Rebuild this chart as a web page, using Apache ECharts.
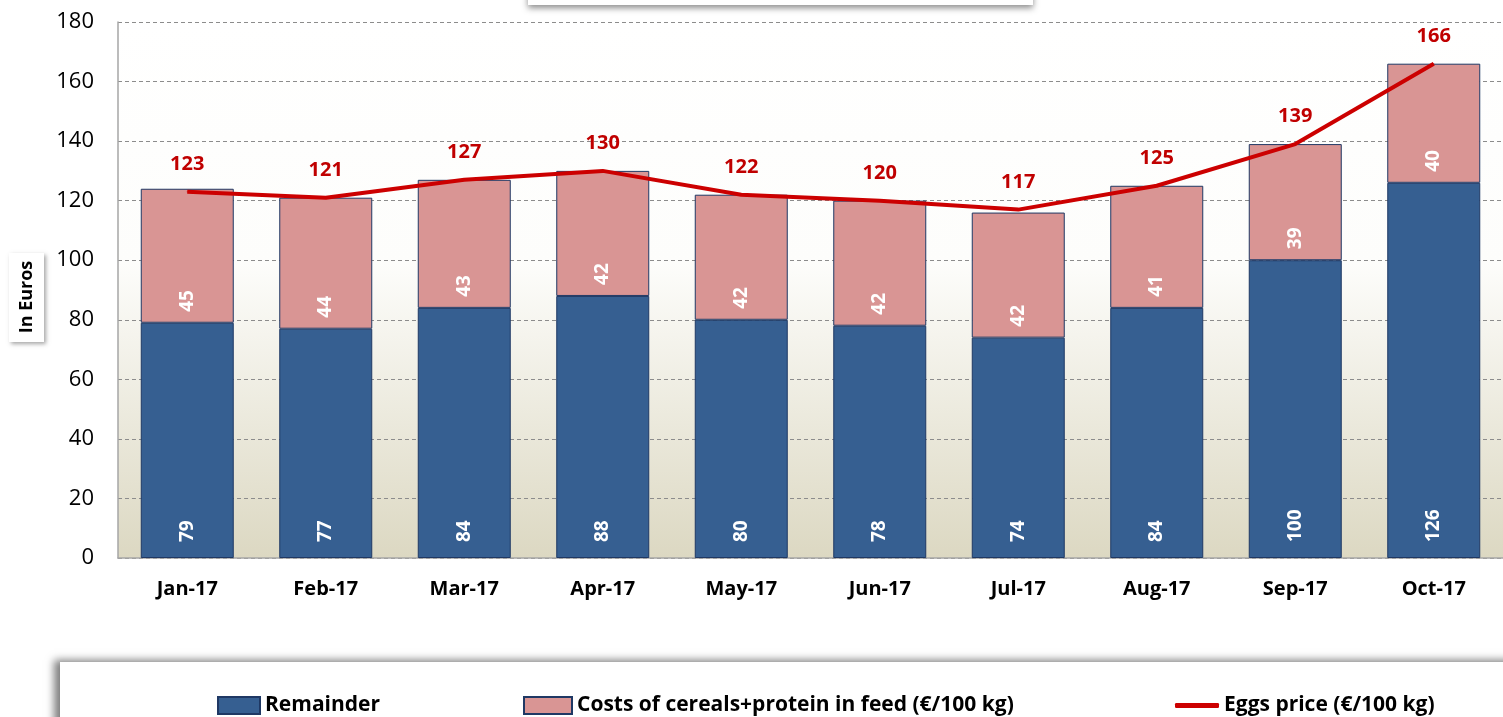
<!DOCTYPE html>
<html>
<head>
<meta charset="utf-8">
<script src="https://cdn.jsdelivr.net/npm/echarts@6/dist/echarts.min.js"></script>
<style>
  html, body { margin: 0; padding: 0; background: #fff; }
  #chart { width: 1503px; height: 717px; }
</style>
</head>
<body>
<div id="chart"></div>
<script>
// 月份类别
const months = ['Jan-17', 'Feb-17', 'Mar-17', 'Apr-17', 'May-17', 'Jun-17', 'Jul-17', 'Aug-17', 'Sep-17', 'Oct-17']
// 剩余部分
const remainder = [79, 77, 84, 88, 80, 78, 74, 84, 100, 126]
// 饲料成本
const feedCosts = [45, 44, 43, 42, 42, 42, 42, 41, 39, 40]
// 鸡蛋价格
const eggsPrice = [123, 121, 127, 130, 122, 120, 117, 125, 139, 166]

const FONT = '"Open Sans", "Liberation Sans", sans-serif'
const chart = echarts.init(document.getElementById('chart'))

const barLabel = (dist) => ({
  show: true,
  position: 'insideBottom',
  rotate: 90,
  align: 'left',
  verticalAlign: 'middle',
  distance: dist,
  color: '#fff',
  fontWeight: 'bold',
  fontSize: 19,
  fontFamily: FONT
})

const legendBase = {
  top: 690,
  itemWidth: 42,
  itemHeight: 17,
  itemGap: 4,
  textStyle: { fontSize: 21, fontWeight: 'bold', color: '#000', fontFamily: FONT }
}

const option = {
  animation: false,
  grid: {
    left: 118,
    top: 22,
    width: 1395,
    bottom: 159,
    show: true,
    borderWidth: 0,
    backgroundColor: new echarts.graphic.LinearGradient(0, 0, 0, 1, [
      { offset: 0, color: '#ffffff' },
      { offset: 0.45, color: '#fdfdfb' },
      { offset: 1, color: '#dcd8c2' }
    ])
  },
  graphic: [
    // 顶部标题框
    {
      type: 'rect', shape: { x: 528, y: -10, width: 505, height: 15 },
      style: { fill: '#fff', shadowBlur: 6, shadowColor: 'rgba(0,0,0,0.45)', shadowOffsetY: 3 }
    },
    // 底部图例框
    {
      type: 'rect', shape: { x: 60, y: 662, width: 1460, height: 70 },
      style: { fill: '#fff', shadowBlur: 8, shadowColor: 'rgba(0,0,0,0.5)', shadowOffsetX: -6, shadowOffsetY: -2 }
    },
    // 纵轴名称
    {
      type: 'rect', shape: { x: 9, y: 253, width: 35, height: 89 },
      style: { fill: '#fff', shadowBlur: 4, shadowColor: 'rgba(0,0,0,0.35)', shadowOffsetX: 2, shadowOffsetY: 2 }
    },
    {
      type: 'text', x: 27, y: 297, rotation: Math.PI / 2,
      style: { text: 'In Euros', fill: '#000', font: 'bold 18px ' + FONT, align: 'center', verticalAlign: 'middle' }
    }
  ],
  legend: [
    { ...legendBase, left: 212, data: [{ name: 'Remainder', icon: 'rect' }] },
    { ...legendBase, left: 518, itemWidth: 48, data: [{ name: 'Costs of cereals+protein in feed (€/100 kg)', icon: 'rect' }] },
    {
      ...legendBase, left: 1170, itemWidth: 44, itemHeight: 5,
      data: [{ name: 'Eggs price (€/100 kg)', icon: 'roundRect' }]
    }
  ],
  xAxis: {
    type: 'category',
    data: months,
    axisLine: { lineStyle: { color: '#a6a6a6', width: 1.5 } },
    axisTick: { show: false },
    axisLabel: { color: '#000', fontSize: 20, fontWeight: 'bold', margin: 21, fontFamily: FONT }
  },
  yAxis: {
    type: 'value',
    min: 0,
    max: 180,
    interval: 20,
    axisLine: { show: true, lineStyle: { color: '#a6a6a6', width: 1.5 } },
    axisTick: { show: false },
    axisLabel: { color: '#000', fontSize: 22, margin: 24, fontFamily: FONT },
    splitLine: { lineStyle: { color: '#8c8c8c', type: [4, 3], width: 1 } }
  },
  series: [
    {
      name: 'Remainder',
      type: 'bar',
      stack: 'cost',
      barWidth: 93,
      data: remainder,
      itemStyle: { color: '#365f91', borderColor: '#1f3864', borderWidth: 1 },
      label: barLabel(16)
    },
    {
      name: 'Costs of cereals+protein in feed (€/100 kg)',
      type: 'bar',
      stack: 'cost',
      barWidth: 93,
      data: feedCosts,
      itemStyle: { color: '#d99594', borderColor: '#1f3864', borderWidth: 1 },
      label: barLabel(11)
    },
    {
      name: 'Eggs price (€/100 kg)',
      type: 'line',
      data: eggsPrice,
      symbol: 'circle',
      symbolSize: 1,
      lineStyle: { color: '#cc0000', width: 4 },
      itemStyle: { color: '#cc0000' },
      label: {
        show: true,
        position: 'top',
        distance: 17,
        color: '#c00000',
        fontWeight: 'bold',
        fontSize: 20,
        fontFamily: FONT
      },
      z: 5
    }
  ]
}

chart.setOption(option)
</script>
</body>
</html>
